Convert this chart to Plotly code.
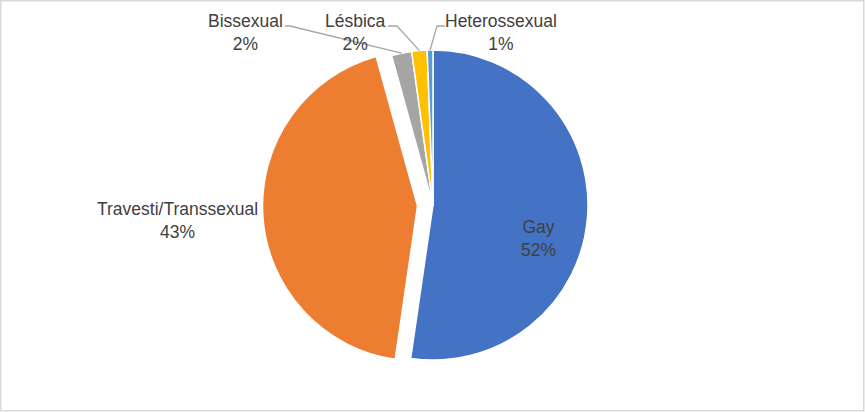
import math
import plotly.graph_objects as go

# ---- data ----
labels = ["Gay", "Travesti/Transsexual", "Bissexual", "Lésbica", "Heterossexual"]
values = [52.3, 43.4, 2.1, 1.6, 0.6]
colors = ["#4472C4", "#ED7D31", "#A5A5A5", "#FFC000", "#5B9BD5"]
pulls = [0, 0.1, 0, 0, 0]

# ---- layout constants (pixels) ----
W, H = 865, 412
CX, CY, R = 433, 205, 155
MAXPULL = max(pulls)
label_centers = [(538, 238), (177, 220), (245, 33), (355, 33), (501, 33)]
# leader line label-side anchor points (start, elbow); None -> no leader
leader_anchor = [None, None, ((285, 26), (290, 26)), ((388, 26), (397, 26)), ((445, 26), (437, 26))]

def px(x):
    return x / W

def py(y):
    return 1 - y / H

half = R * (1 + MAXPULL)
fig = go.Figure(go.Pie(
    labels=labels,
    values=values,
    marker=dict(colors=colors, line=dict(color="white", width=1.5)),
    pull=pulls,
    sort=False,
    direction="clockwise",
    rotation=0,
    textinfo="none",
    hoverinfo="label+percent",
    showlegend=False,
    domain=dict(x=[px(CX - half), px(CX + half)], y=[py(CY + half), py(CY - half)]),
))

total = sum(values)
annotations = []
shapes = []
cum = 0.0
for i, (lab, v) in enumerate(zip(labels, values)):
    pct = round(v / total * 100)
    lx, ly = label_centers[i]
    annotations.append(dict(
        x=px(lx), y=py(ly), xref="paper", yref="paper",
        text=f"{lab}<br>{pct}%", showarrow=False,
        xanchor="center", yanchor="middle", align="center",
        font=dict(family="Liberation Sans", size=17.5, color="#404040"),
    ))
    mid = (cum + v / 2) / total * 2 * math.pi
    cum += v
    if leader_anchor[i] is not None:
        (sx, sy), (ex, ey) = leader_anchor[i]
        tx = CX + R * math.sin(mid)
        ty = CY - R * math.cos(mid)
        path = f"M {px(sx)} {py(sy)} L {px(ex)} {py(ey)} L {px(tx)} {py(ty)}"
        shapes.append(dict(type="path", path=path, xref="paper", yref="paper",
                           line=dict(color="#A6A6A6", width=1.3)))

# chart border
shapes.append(dict(type="rect", xref="paper", yref="paper", x0=px(0.75), y0=py(H - 1.25),
                   x1=px(W - 1.25), y1=py(0.75), line=dict(color="#D9D9D9", width=1.5)))

fig.update_layout(
    width=W, height=H,
    margin=dict(l=0, r=0, t=0, b=0),
    paper_bgcolor="white", plot_bgcolor="white",
    annotations=annotations, shapes=shapes,
)

fig.write_html("out.html", config={"displayModeBar": False},
               post_script="document.body.style.margin='0';document.body.style.overflow='hidden';")
